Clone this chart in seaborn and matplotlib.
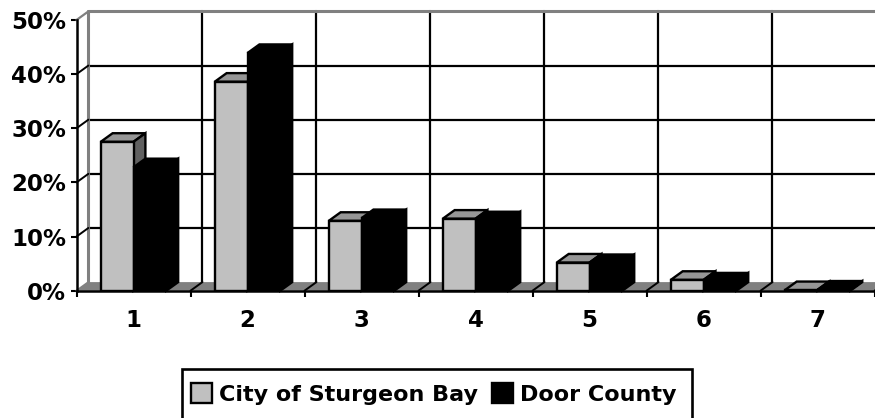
import matplotlib
matplotlib.use("Agg")
import matplotlib.pyplot as plt
from matplotlib.patches import Polygon, Rectangle
import pandas as pd
import seaborn as sns

categories = ["1", "2", "3", "4", "5", "6", "7"]
sturgeon_bay = [27.5, 38.6, 12.9, 13.3, 5.2, 2.0, 0.1]
door_county = [22.8, 43.9, 13.4, 13.0, 5.1, 1.7, 0.2]
series_names = ["City of Sturgeon Bay", "Door County"]
y_ticks = [0, 10, 20, 30, 40, 50]

W, H = 875, 418
L, R, B, T = 76.5, 874.6, 290.7, 20.0
PX_X = (R - L) / 7
PX_Y = (B - T) / 50
DX = 11.9 / PX_X
DY = 8.6 / PX_Y
FONT = "DejaVu Sans"

sns.set_theme(style="white")
plt.rcParams["font.family"] = [FONT]

df = pd.DataFrame({
    "cat": categories * 2,
    "val": sturgeon_bay + door_county,
    "series": [series_names[0]] * 7 + [series_names[1]] * 7,
})

fig = plt.figure(figsize=(W / 100, H / 100), dpi=100, facecolor="white")
ax = fig.add_axes([L / W, 1 - B / H, (R - L) / W, (B - T) / H])
colors = ["#C0C0C0", "#000000"]
sns.barplot(data=df, x="cat", y="val", hue="series", order=categories,
            hue_order=series_names, palette=colors, saturation=1,
            width=0.575, gap=0, edgecolor="black", linewidth=1.7, ax=ax, zorder=3)
ax.set_xlim(-0.5, 6.5)
ax.set_ylim(0, 50)
ax.set_xlabel("")
ax.set_ylabel("")
ax.patch.set_alpha(0)
containers = list(ax.containers)

# floor and back wall
ax.add_patch(Polygon([(-0.5, 0), (-0.5 + DX, DY), (6.6 + DX, DY), (6.6, 0)],
                     closed=True, fc="#808080", ec="none", zorder=1, clip_on=False))
for v in y_ticks[1:-1]:
    ax.plot([-0.5 + DX, 7], [v + DY, v + DY], color="black", lw=1.6, zorder=1.5, clip_on=False)
for i in range(1, 8):
    x = i - 0.5 + DX
    ax.plot([x, x], [DY, 50 + DY], color="black", lw=1.6, zorder=1.5, clip_on=False)
    ax.plot([i - 0.5, x], [0, DY], color="black", lw=1.4, zorder=1.6, clip_on=False)
ax.plot([-0.5 + DX, -0.5 + DX], [0 + DY, 50 + DY], color="#808080", lw=2.2, zorder=1.7, clip_on=False)
ax.plot([-0.5 + DX, 7], [50 + DY, 50 + DY], color="#808080", lw=2.2, zorder=1.7, clip_on=False)
ax.plot([-0.5, -0.5 + DX], [0, DY], color="#808080", lw=1.4, zorder=1.6, clip_on=False)
ax.plot([-0.5, -0.5 + DX], [50, 50 + DY], color="#808080", lw=1.6, zorder=1.8, clip_on=False)
for v in y_ticks[1:-1]:
    ax.plot([-0.5, -0.5 + DX], [v, v + DY], color="black", lw=1.4, zorder=1.8, clip_on=False)

# 3-D faces derived from each drawn bar
shades = [("#969696", "#606060"), ("#000000", "#000000")]
for s, cont in enumerate(containers):
    top_c, side_c = shades[s]
    z = 3 + s
    for bar in cont:
        x0, w, h = bar.get_x(), bar.get_width(), bar.get_height()
        bar.set_zorder(z + 0.2)
        ax.add_patch(Polygon([(x0, h), (x0 + DX, h + DY), (x0 + w + DX, h + DY), (x0 + w, h)],
                             closed=True, fc=top_c, ec="black", lw=1.7, zorder=z, clip_on=False))
        ax.add_patch(Polygon([(x0 + w, 0), (x0 + w + DX, DY), (x0 + w + DX, h + DY), (x0 + w, h)],
                             closed=True, fc=side_c, ec="black", lw=1.7, zorder=z, clip_on=False))

# front axes
sns.despine(ax=ax, top=True, right=True)
for sp in ("left", "bottom"):
    ax.spines[sp].set_color("black")
    ax.spines[sp].set_linewidth(1.8)
    ax.spines[sp].set_zorder(6)
ax.set_yticks(y_ticks)
ax.set_yticklabels([f"{v}%" for v in y_ticks], fontsize=16.5, fontweight="bold", color="black")
ax.set_xticks([i - 0.5 for i in range(8)], minor=True)
ax.set_xticks(range(7))
ax.set_xticklabels(categories, fontsize=16.5, fontweight="bold", color="black")
ax.tick_params(axis="y", which="major", left=True, length=4, width=1.5, color="black", pad=3.5)
ax.tick_params(axis="x", which="major", bottom=False, length=0, pad=13)
ax.tick_params(axis="x", which="minor", bottom=True, length=4, width=1.5, color="black")
ax.grid(False)

# legend: box runs off the bottom of the canvas, as in the reference
sns.move_legend(ax, "center", bbox_to_anchor=(434 / W, 1 - 394 / H),
                bbox_transform=fig.transFigure, ncol=2, title=None, frameon=False,
                prop={"size": 16, "weight": "bold", "family": FONT},
                handlelength=0.95, handleheight=0.95, handletextpad=0.31,
                columnspacing=0.63, borderpad=0.38, borderaxespad=0)
leg = ax.get_legend()
leg.set_zorder(10)
for t in leg.get_texts():
    t.set_color("black")
fig.add_artist(Rectangle((182 / W, 1 - 423 / H), 510 / W, 54 / H, transform=fig.transFigure,
                         fc="none", ec="black", lw=1.9))

fig.savefig("out.png", dpi=100, facecolor="white")
